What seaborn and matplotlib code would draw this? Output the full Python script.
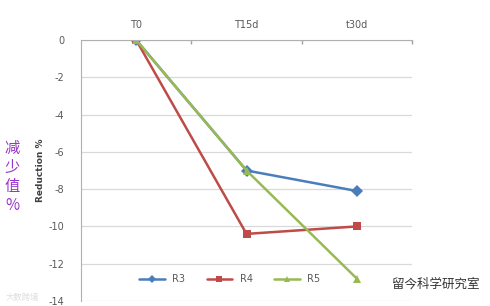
import matplotlib
matplotlib.use("Agg")
import matplotlib.pyplot as plt
import seaborn as sns
import pandas as pd

categories = ["T0", "T15d", "t30d"]
r3 = [0.0, -7.0, -8.1]
r4 = [0.0, -10.4, -10.0]
r5 = [0.0, -7.0, -12.8]
series_names = ["R3", "R4", "R5"]
y_ticks = [0, -2, -4, -6, -8, -10, -12, -14]

rows = []
for name, vals in zip(series_names, [r3, r4, r5]):
    for i, v in enumerate(vals):
        rows.append({"x": i, "cat": categories[i], "value": v, "series": name})
df = pd.DataFrame(rows)

sns.set_theme(style="white")
plt.rcParams['font.family'] = ['DejaVu Sans', 'Noto Sans CJK SC']

fig = plt.figure(figsize=(4.9, 3.06), dpi=100)
ax = fig.add_axes([81/490, 1-301/306, 331/490, 261/306])

palette = {"R3": "#4a7ebb", "R4": "#be4b48", "R5": "#98b954"}
markers = {"R3": "D", "R4": "s", "R5": "^"}
sns.lineplot(data=df, x="x", y="value", hue="series", style="series",
             markers=markers, dashes=False, palette=palette, ax=ax,
             linewidth=1.8, markersize=6, markeredgewidth=0, legend=False)

ax.set_xlim(-0.5, 2.5)
ax.set_ylim(-14, 0)
ax.set_yticks(y_ticks)
ax.set_yticklabels([str(t) for t in y_ticks], fontsize=7, color="#595959")
ax.yaxis.grid(True, color="#d9d9d9", linewidth=0.9)
ax.xaxis.grid(False)

ax.xaxis.tick_top()
ax.set_xticks([0, 1, 2])
ax.set_xticklabels(categories, fontsize=7, color="#595959")
ax.tick_params(axis="x", length=0, pad=7)
ax.tick_params(axis="y", length=0, pad=12)
# category boundary ticks on the top axis line
ax.set_xticks([0.5, 1.5, 2.5], minor=True)
ax.tick_params(axis="x", which="minor", length=3, color="#a0a0a0", direction="in", top=True)

for s in ["right", "bottom"]:
    ax.spines[s].set_visible(False)
for s in ["left", "top"]:
    ax.spines[s].set_color("#b0b0b0")
    ax.spines[s].set_linewidth(0.8)

ax.set_xlabel("")
ax.set_ylabel("Reduction %", fontsize=6.5, fontweight="bold", color="#404040", labelpad=10)
ax.yaxis.set_label_coords(-0.11, 0.5)

from matplotlib.lines import Line2D
handles = [Line2D([], [], color=palette[n], marker=markers[n], markersize=4.5,
                  markeredgewidth=0, linewidth=1.8) for n in series_names]
ax.legend(handles, series_names, loc="center", bbox_to_anchor=(0.45, 0.084),
          ncol=3, frameon=False, fontsize=7, handlelength=2.6, columnspacing=2.2,
          labelcolor="#595959")

fig.text(12/490, 1-177/306, "减\n少\n值\n%", fontsize=11, color="#9933cc",
         family=['Noto Sans CJK SC', 'DejaVu Sans'], ha="center", va="center",
         linespacing=1.15)
fig.text(392/490, 1-284/306, "留今科学研究室", fontsize=9, color="#333333",
         family=['Noto Sans CJK SC', 'DejaVu Sans'], ha="left", va="center")
fig.text(6/490, 1-297/306, "大数跨境", fontsize=6, color="#dddddd",
         family=['Noto Sans CJK SC', 'DejaVu Sans'], ha="left", va="center")

fig.savefig("out.png", dpi=100)
